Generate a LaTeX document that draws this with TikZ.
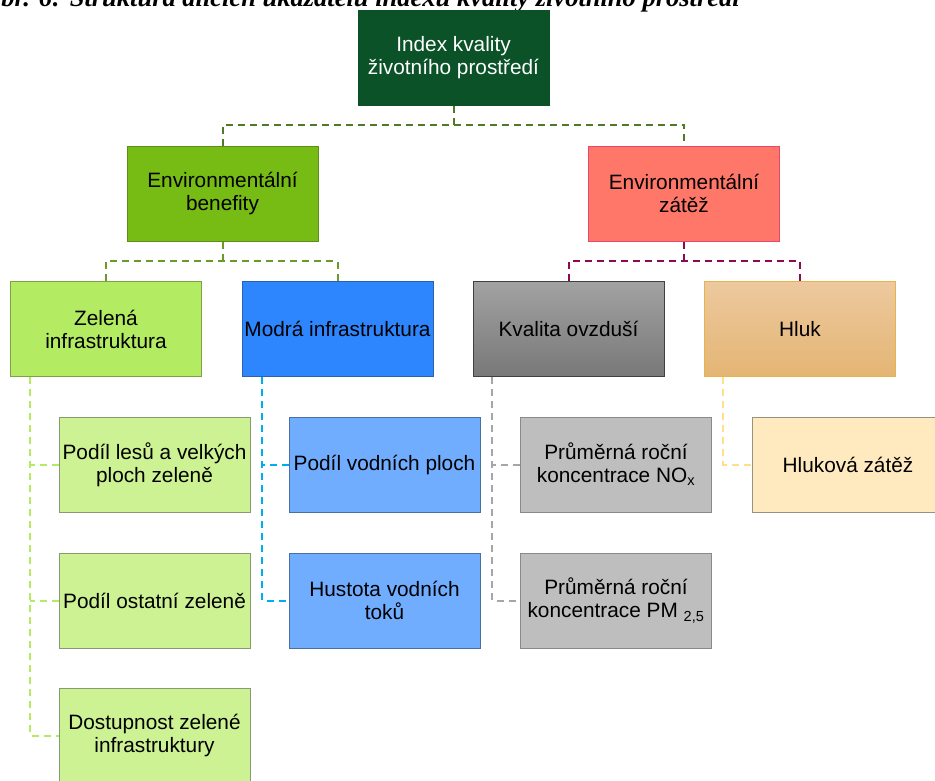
\documentclass[tikz,border=0pt]{standalone}
\usepackage{fontspec}
\setmainfont{Liberation Sans}
\newfontfamily\capfont{Liberation Serif}
\definecolor{topfill}{HTML}{0B5229}
\definecolor{benfill}{HTML}{77BB15}
\definecolor{bendraw}{HTML}{5C8F1A}
\definecolor{zatfill}{HTML}{FF7769}
\definecolor{zatdraw}{HTML}{E8476A}
\definecolor{zelfill}{HTML}{B3EB62}
\definecolor{zeldraw}{HTML}{7DA048}
\definecolor{modfill}{HTML}{2E86FE}
\definecolor{moddraw}{HTML}{2A62B0}
\definecolor{kvtop}{HTML}{A2A2A2}
\definecolor{kvbot}{HTML}{787878}
\definecolor{kvdraw}{HTML}{404040}
\definecolor{hltop}{HTML}{EDC99E}
\definecolor{hlbot}{HTML}{E4B574}
\definecolor{hldraw}{HTML}{E8B44A}
\definecolor{lzfill}{HTML}{CCF293}
\definecolor{lzdraw}{HTML}{8A9A70}
\definecolor{lmfill}{HTML}{70ADFF}
\definecolor{lmdraw}{HTML}{4A6FA0}
\definecolor{lgfill}{HTML}{BEBEBE}
\definecolor{lgdraw}{HTML}{8A8A8A}
\definecolor{lyfill}{HTML}{FFEABF}
\definecolor{lydraw}{HTML}{9A9080}
\definecolor{c1}{HTML}{4F7A28}
\definecolor{c2}{HTML}{6B9A2A}
\definecolor{c3}{HTML}{8B0A50}
\definecolor{c4}{HTML}{B3EB62}
\definecolor{c5}{HTML}{00AEEF}
\definecolor{c6}{HTML}{A6A6A6}
\definecolor{c7}{HTML}{FFE08A}
\begin{document}
\begin{tikzpicture}[x=1pt,y=-1pt,
  box/.style={draw, line width=1pt, minimum width=191pt, minimum height=95pt,
    inner sep=1pt, align=center, font=\fontsize{20.8}{23}\selectfont},
  conn/.style={line width=2pt, dash pattern=on 7pt off 5pt}]
\useasboundingbox (0,0) rectangle (935,780);
\node[anchor=base west, inner sep=0pt, font=\capfont\bfseries\itshape\fontsize{26.5}{30}\selectfont] (cap) at (-18,6.5)
  {Obr. 6: Struktura dílčích ukazatelů indexu kvality životního prostředí};
\node[box, draw=topfill, fill=topfill, text=white] (top) at (453.5,57.5) {Index kvality\\životního prostředí};
\node[box, draw=bendraw, fill=benfill] (ben) at (222.5,193.5) {Environmentální\\benefity};
\node[box, draw=zatdraw, fill=zatfill] (zat) at (684,193.5) {Environmentální\\zátěž};
\node[box, draw=zeldraw, fill=zelfill] (zel) at (106,329) {Zelená\\infrastruktura};
\node[box, draw=moddraw, fill=modfill] (mod) at (337.5,329) {Modrá infrastruktura};
\node[box, draw=kvdraw, top color=kvtop, bottom color=kvbot] (kv) at (568.5,329) {Kvalita ovzduší};
\node[box, draw=hldraw, top color=hltop, bottom color=hlbot] (hl) at (800,329) {Hluk};
\node[box, draw=lzdraw, fill=lzfill] (les) at (154.5,464.5) {Podíl lesů a velkých\\ploch zeleně};
\node[box, draw=lmdraw, fill=lmfill] (vod) at (384.5,464.5) {Podíl vodních ploch};
\node[box, draw=lgdraw, fill=lgfill] (nox) at (616,464.5) {Průměrná roční\\koncentrace NO\textsubscript{x}};
\node[box, draw=lydraw, fill=lyfill] (hlz) at (848,464.5) {Hluková zátěž};
\node[box, draw=lzdraw, fill=lzfill] (ost) at (154.5,600.5) {Podíl ostatní zeleně};
\node[box, draw=lmdraw, fill=lmfill] (hus) at (384.5,600.5) {Hustota vodních\\toků};
\node[box, draw=lgdraw, fill=lgfill] (pm) at (616,600.5) {Průměrná roční\\koncentrace PM \textsubscript{2,5}};
\node[box, draw=lzdraw, fill=lzfill] (dos) at (154.5,735.5) {Dostupnost zelené\\infrastruktury};
% level 1
\draw[conn, c1] (top.south) -- ++(0,20);
\draw[conn, c1] (ben.north) -- ++(0,-21) -| (zat.north);
% level 2
\draw[conn, c2] (ben.south) -- ++(0,20);
\draw[conn, c2] (zel.north) -- ++(0,-20) -| (mod.north);
\draw[conn, c3] (zat.south) -- ++(0,20);
\draw[conn, c3] (kv.north) -- ++(0,-20) -| (hl.north);
% level 3
\coordinate (zt) at ([xshift=-76pt]zel.south);
\coordinate (mt) at ([xshift=-75.5pt]mod.south);
\coordinate (kt) at ([xshift=-76.5pt]kv.south);
\coordinate (ht) at ([xshift=-77pt]hl.south);
\draw[conn, c4] (zt) |- (dos.west);
\draw[conn, c4] (les.west) -- (les.west -| zt);
\draw[conn, c4] (ost.west) -- (ost.west -| zt);
\draw[conn, c5] (mt) |- (hus.west);
\draw[conn, c5] (vod.west) -- (vod.west -| mt);
\draw[conn, c6] (kt) |- (pm.west);
\draw[conn, c6] (nox.west) -- (nox.west -| kt);
\draw[conn, c7] (ht) |- (hlz.west);
\end{tikzpicture}
\end{document}
